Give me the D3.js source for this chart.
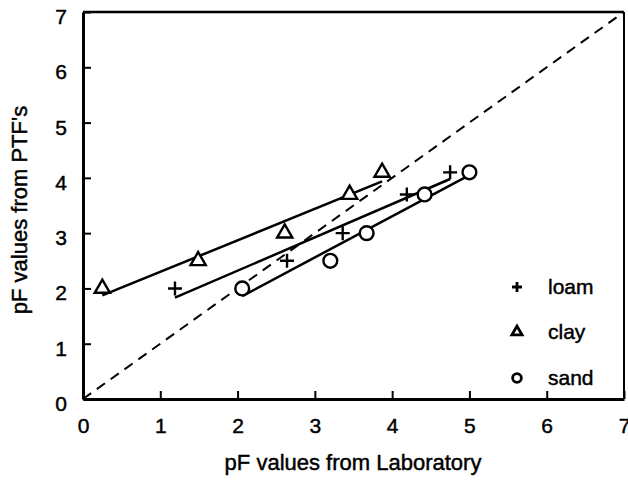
<!DOCTYPE html>
<html>
<head>
<meta charset="utf-8">
<script src="https://cdn.jsdelivr.net/npm/d3@7"></script>
<style>
  html, body { margin: 0; padding: 0; background: #fff; }
  svg text { font-family: "Liberation Sans", Arial, Helvetica, sans-serif; fill: #000; stroke: #000; stroke-width: 0.45px; }
</style>
</head>
<body>
<svg id="chart" width="628" height="480"></svg>
<script>
// pF values: laboratory measurement (x) vs. pedotransfer-function estimate (y)
const pfPtf     = [2.0, 2.5, 3.0, 3.7, 4.1];
const loamLab   = [1.19, 2.64, 3.36, 4.19, 4.75];
const clayLab   = [0.25, 1.49, 2.61, 3.45, 3.87];
const sandLab   = [2.06, 3.20, 3.67, 4.42, 5.00];
const seriesNames = ["loam", "clay", "sand"];
const axisTicks = [0, 1, 2, 3, 4, 5, 6, 7];

const series = [
  { name: seriesNames[0], symbol: d3.symbolCross,    xs: loamLab, ys: pfPtf },
  { name: seriesNames[1], symbol: d3.symbolTriangle, xs: clayLab, ys: pfPtf },
  { name: seriesNames[2], symbol: d3.symbolCircle,   xs: sandLab, ys: pfPtf }
];

const svg = d3.select("#chart");
const x = d3.scaleLinear().domain([0, 7]).range([83, 624]);
const y = d3.scaleLinear().domain([0, 7]).range([399, 12]);
const FONT = 21;
const TITLE_FONT = 22;

// frame: top and right edges
svg.append("line").attr("x1", x(0)).attr("x2", x(7)).attr("y1", y(7)).attr("y2", y(7))
  .attr("stroke", "#000").attr("stroke-width", 2.5);
svg.append("line").attr("x1", x(7)).attr("x2", x(7)).attr("y1", y(7)).attr("y2", y(0))
  .attr("stroke", "#000").attr("stroke-width", 2);

// axes with inward ticks
const gx = svg.append("g").attr("transform", `translate(0,${y(0)})`)
  .call(d3.axisBottom(x).tickValues(axisTicks).tickFormat(d3.format("d"))
    .tickSize(-8).tickSizeOuter(0).tickPadding(19));
const gy = svg.append("g").attr("transform", `translate(${x(0)},0)`)
  .call(d3.axisLeft(y).tickValues(axisTicks).tickFormat(d3.format("d"))
    .tickSize(-8).tickSizeOuter(0).tickPadding(16));
[gx, gy].forEach(g => {
  g.select(".domain").attr("stroke-width", 3);
  g.selectAll(".tick line").attr("stroke-width", 2);
  g.selectAll(".tick text").attr("font-size", FONT).attr("font-family", null);
});
gy.selectAll(".tick text").attr("dy", "0.55em");

// 1:1 reference line
svg.append("line")
  .attr("x1", x(0)).attr("y1", y(0)).attr("x2", x(7)).attr("y2", y(7))
  .attr("stroke", "#000").attr("stroke-width", 2).attr("stroke-dasharray", "10,7");

// least-squares line per series, drawn over the range of its points
function fit(xs, ys) {
  const mx = d3.mean(xs), my = d3.mean(ys);
  const sxy = d3.sum(xs, (v, i) => (v - mx) * (ys[i] - my));
  const sxx = d3.sum(xs, v => (v - mx) * (v - mx));
  const b = sxy / sxx;
  return { b, a: my - b * mx };
}
const line = d3.line().x(d => x(d[0])).y(d => y(d[1]));
series.forEach(s => {
  const { a, b } = fit(s.xs, s.ys);
  const [x0, x1] = d3.extent(s.xs);
  svg.append("path").datum([[x0, a + b * x0], [x1, a + b * x1]])
    .attr("d", line).attr("fill", "none").attr("stroke", "#000").attr("stroke-width", 2.5);
});

function plusPath(r) {
  return `M${-r},0H${r}M0,${-r}V${r}`;
}

// point markers
const sizes = { loam: 150, clay: 100, sand: 150 };
series.forEach(s => {
  svg.append("g").selectAll("path")
    .data(s.xs.map((v, i) => [v, s.ys[i]]))
    .join("path")
    .attr("transform", d => `translate(${x(d[0])},${y(d[1])})`)
    .attr("d", s.name === "loam" ? plusPath(7) : d3.symbol().type(s.symbol).size(sizes[s.name])())
    .attr("fill", s.name === "loam" ? "none" : "#fff")
    .attr("stroke", "#000").attr("stroke-width", 2.4);
});

// legend
const legY = [287, 332, 378];
series.forEach((s, i) => {
  const g = svg.append("g").attr("transform", `translate(517,${legY[i]})`);
  g.append("path")
    .attr("d", s.name === "loam" ? plusPath(5) : d3.symbol().type(s.symbol).size(s.name === "clay" ? 45 : 60)())
    .attr("fill", "none").attr("stroke", "#000").attr("stroke-width", 2.8);
  g.append("text").attr("x", 31).attr("y", 7).attr("font-size", FONT).text(s.name);
});

// axis titles
svg.append("text").attr("x", 353).attr("y", 470).attr("text-anchor", "middle")
  .attr("font-size", TITLE_FONT).text("pF values from Laboratory");
svg.append("text").attr("transform", "translate(27,210) rotate(-90)").attr("text-anchor", "middle")
  .attr("font-size", TITLE_FONT).text("pF values from PTF's");
</script>
</body>
</html>
